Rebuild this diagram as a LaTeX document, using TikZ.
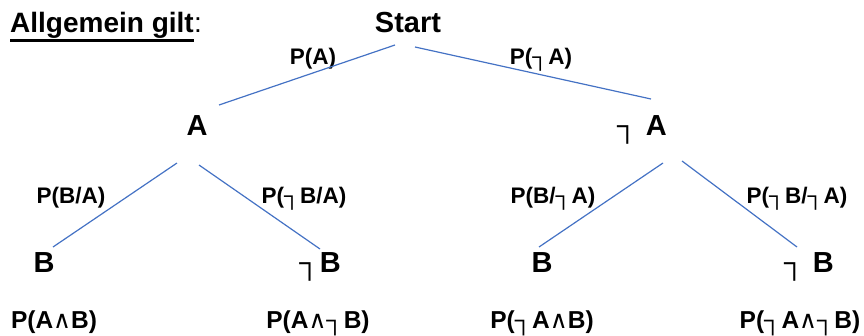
\documentclass[tikz,border=0pt]{standalone}
\usepackage{fontspec}
\setmainfont{Liberation Sans}
\newfontfamily\symfont{DejaVu Sans}
\usepackage{xcolor}
\usepackage{tikz}
\usetikzlibrary{positioning,calc}
\definecolor{branchblue}{RGB}{68,114,196}
\newcommand{\nicht}{┐}
\newcommand{\und}{{\symfont\mdseries ∧}}
\begin{document}
\begin{tikzpicture}[
  x=1pt,y=-1pt,
  vertex/.style={anchor=base,inner sep=0pt,font=\fontsize{29}{32}\selectfont\bfseries},
  prob/.style={anchor=base,inner sep=0pt,font=\fontsize{22.5}{26}\selectfont\bfseries},
  res/.style={anchor=base,inner sep=0pt,font=\fontsize{24.5}{28}\selectfont\bfseries},
  branch/.style={draw=branchblue,line width=1.2pt}
]
\useasboundingbox (0,0) rectangle (864,335);
\node[anchor=base west,inner sep=0pt,font=\fontsize{28}{32}\selectfont\bfseries] (title) at (10,32) {Allgemein gilt};
\node[anchor=base west,inner sep=0pt,font=\fontsize{28}{32}\selectfont] (colon) at (title.base east) {:};
\draw[line width=3.5pt] ([yshift=-2.5pt]title.south west) -- ([yshift=-2.5pt]title.south east);
\node[vertex] (start) at (408,32) {Start};
\node[prob] (pa) at (313,64) {P(A)};
\node[prob] (pna) at (541,64) {P(\nicht A)};
\node[vertex] (a) at (197,135) {A};
\node[vertex] (na) at (642,135) {\nicht\ A};
\node[prob] (pba) at (71,203) {P(B/A)};
\node[prob] (pnba) at (304,203) {P(\nicht B/A)};
\node[prob] (pbna) at (553,203) {P(B/\nicht A)};
\node[prob] (pnbna) at (797,203) {P(\nicht B/\nicht A)};
\node[vertex] (ab) at (44,272) {B};
\node[vertex] (anb) at (320,272) {\nicht B};
\node[vertex] (nab) at (542,272) {B};
\node[vertex] (nanb) at (809,272) {\nicht\ B};
\node[res] (rab) at (54,328) {P(A\und B)};
\node[res] (ranb) at (318,328) {P(A\und\nicht B)};
\node[res] (rnab) at (542,328) {P(\nicht A\und B)};
\node[res] (rnanb) at (800,328) {P(\nicht A\und\nicht B)};
\draw[branch] ([shift={(-13,13)}]start.base) -- ([shift={(22,-30)}]a.base);
\draw[branch] ([shift={(7,15)}]start.base) -- ([shift={(9,-36)}]na.base);
\draw[branch] ([shift={(-20,28)}]a.base) -- ([shift={(9,-25)}]ab.base);
\draw[branch] ([shift={(2,30)}]a.base) -- ([shift={(0,-23)}]anb.base);
\draw[branch] ([shift={(21,28)}]na.base) -- ([shift={(-3,-25)}]nab.base);
\draw[branch] ([shift={(40,26)}]na.base) -- ([shift={(-12,-25)}]nanb.base);
\end{tikzpicture}
\end{document}
